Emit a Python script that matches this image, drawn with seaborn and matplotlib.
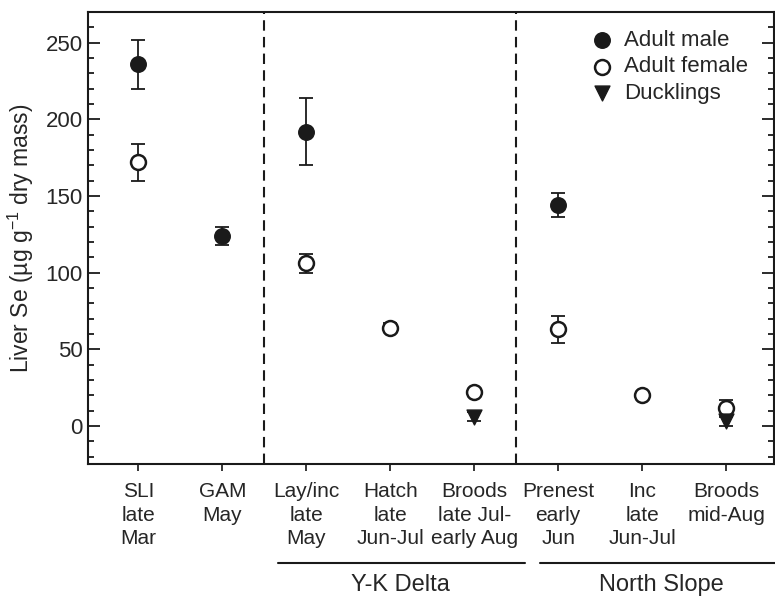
import numpy as np
import pandas as pd
import seaborn as sns
import matplotlib.pyplot as plt
import matplotlib.transforms as mtransforms
from matplotlib.ticker import MultipleLocator

sites = ["SLI\nlate\nMar", "GAM\nMay", "Lay/inc\nlate\nMay", "Hatch\nlate\nJun-Jul",
         "Broods\nlate Jul-\nearly Aug", "Prenest\nearly\nJun", "Inc\nlate\nJun-Jul",
         "Broods\nmid-Aug"]

male_site = [0, 1, 2, 5]
male_mean = [236, 124, 192, 144]
male_lo = [220, 118, 170, 136]
male_hi = [252, 130, 214, 152]

female_site = [0, 2, 3, 4, 5, 6, 7]
female_mean = [172, 106, 64, 22, 63, 20, 12]
female_lo = [160, 100, 61, 20, 54, 18, 7]
female_hi = [184, 112, 67, 24, 72, 22, 17]

duck_site = [4, 7]
duck_mean = [6, 3]
duck_lo = [3, 0]
duck_hi = [9, 6]

regions = ["Y-K Delta", "North Slope"]
region_span = [(1.66, 4.60), (4.78, 7.60)]
region_mid = [3.12, 6.23]

sns.set_style("ticks")
plt.rcParams['font.family'] = ['Liberation Sans', 'DejaVu Sans']
plt.rcParams['mathtext.fontset'] = 'custom'
plt.rcParams['mathtext.rm'] = 'Liberation Sans'
plt.rcParams['mathtext.default'] = 'regular'

FS = 16

def frame(site, mean, lo, hi):
    return pd.DataFrame({"x": site, "y": mean,
                         "lo": np.array(mean) - np.array(lo),
                         "hi": np.array(hi) - np.array(mean)})

male = frame(male_site, male_mean, male_lo, male_hi)
female = frame(female_site, female_mean, female_lo, female_hi)
duck = frame(duck_site, duck_mean, duck_lo, duck_hi)

fig = plt.figure(figsize=(7.75, 5.98), dpi=100)
ax = fig.add_axes([87.5/775, 1-464.3/598, (774-87.5)/775, (464.3-12)/598])

for d in (male, female, duck):
    ax.errorbar(d["x"], d["y"], yerr=[d["lo"], d["hi"]], fmt='none', ecolor='#1a1a1a',
                elinewidth=1.3, capsize=5, capthick=1.3, zorder=2)

sns.scatterplot(data=male, x="x", y="y", ax=ax, marker='o', s=125, color='#1a1a1a',
                edgecolor='#1a1a1a', linewidth=1, label="Adult male", zorder=3)
sns.scatterplot(data=female, x="x", y="y", ax=ax, marker='o', s=115, color='white',
                edgecolor='#1a1a1a', linewidth=1.8, label="Adult female", zorder=3)
sns.scatterplot(data=duck, x="x", y="y", ax=ax, marker='v', s=115, color='#1a1a1a',
                edgecolor='#1a1a1a', linewidth=1, label="Ducklings", zorder=4)

for xv in (1.5, 4.5):
    ax.axvline(xv, color='#1a1a1a', lw=1.5, ls=(0, (5, 3)), zorder=1)

ax.set_xlim(-0.607, 7.57)
ax.set_ylim(-25, 270)
ax.set_xticks(range(len(sites)))
ax.set_xticklabels(sites, fontsize=FS - 1, linespacing=1.28)
ax.yaxis.set_major_locator(MultipleLocator(50))
ax.yaxis.set_minor_locator(MultipleLocator(10))
ax.tick_params(axis='y', which='both', direction='in', left=True, right=True,
               labelsize=FS, width=1.3, color='#1a1a1a')
ax.tick_params(axis='y', which='major', length=8.5)
ax.tick_params(axis='y', which='minor', length=4.5)
ax.tick_params(axis='x', direction='out', length=5, width=1.3, top=False, pad=8)
ax.set_xlabel("")
ax.set_ylabel(r"Liver Se (µg g$^{-1}$ dry mass)", fontsize=FS + 0.5, labelpad=7)
for s in ax.spines.values():
    s.set_linewidth(1.5)
    s.set_color('#1a1a1a')

trans = mtransforms.blended_transform_factory(ax.transData, ax.transAxes)
for name, (a, b), m in zip(regions, region_span, region_mid):
    ax.plot([a, b], [-0.218, -0.218], color='#1a1a1a', lw=1.5, transform=trans, clip_on=False)
    ax.text(m, -0.267, name, transform=trans, ha='center', va='center', fontsize=FS + 1)

ax.legend(loc='upper right', bbox_to_anchor=(0.975, 0.98), frameon=False, fontsize=FS,
          handletextpad=0.0, labelspacing=0.25, borderaxespad=0, markerscale=1.0)

fig.savefig("out.png", dpi=100)
